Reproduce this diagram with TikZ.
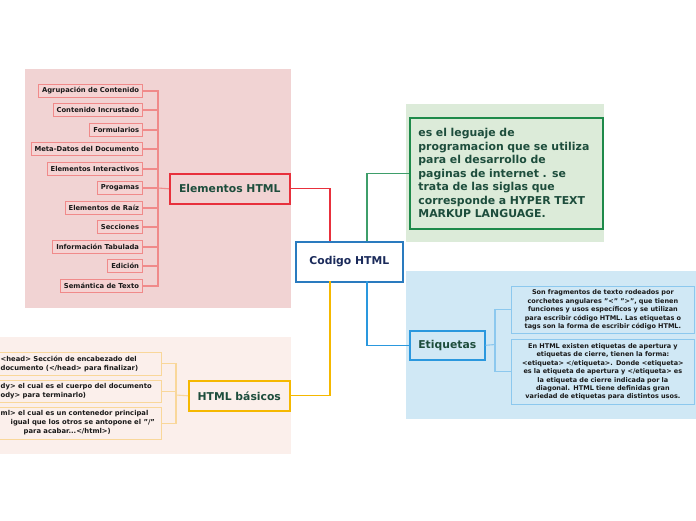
\documentclass[tikz,border=0pt]{standalone}
\usepackage{fontspec}
\setmainfont{DejaVu Sans}
\definecolor{bgP}{HTML}{F1D3D3}
\definecolor{bgG}{HTML}{DCEBD9}
\definecolor{bgB}{HTML}{D0E8F5}
\definecolor{bgO}{HTML}{FBEFEB}
\definecolor{lfB}{HTML}{F08A8A}
\definecolor{lfF}{HTML}{F5D3D3}
\definecolor{redB}{HTML}{E8303C}
\definecolor{grnB}{HTML}{1E8A4A}
\definecolor{grnL}{HTML}{3E9E6A}
\definecolor{bluB}{HTML}{2A98DE}
\definecolor{bluL}{HTML}{8CC8EE}
\definecolor{codB}{HTML}{2A7BBF}
\definecolor{orB}{HTML}{F5B800}
\definecolor{orL}{HTML}{F9D79A}
\definecolor{txG}{HTML}{1D4D3C}
\definecolor{txN}{HTML}{1A2A5A}
\begin{document}
\begin{tikzpicture}[x=1pt,y=-1pt,
  leaf/.style={draw=lfB,fill=lfF,line width=0.9pt,font=\fontsize{6.8}{7.5}\selectfont\bfseries,text=black!90,inner xsep=3.5pt,inner ysep=0pt,minimum height=13pt,anchor=east},
  mainbox/.style={line width=1.6pt,font=\fontsize{10.8}{12}\selectfont\bfseries,text=txG,inner sep=0pt,anchor=north west},
  smallbox/.style={line width=0.8pt,font=\fontsize{6.5}{8.4}\selectfont\bfseries,text=black!90,inner sep=0pt,anchor=north west},
  basictxt/.style={anchor=west,align=left,inner sep=0pt,font=\fontsize{6.8}{9}\selectfont\bfseries,text=black!90},
  conn/.style={line width=1.1pt}]
\useasboundingbox (0,0) rectangle (696,520);
\fill[white] (0,0) rectangle (696,520);
% background regions
\fill[bgP] (25,69) rectangle (291,308);
\fill[bgG] (406,104) rectangle (604,242);
\fill[bgB] (406,271) rectangle (696,419);
\fill[bgO] (0,337) rectangle (291,454);
\coordinate (cA) at (330,241);
\coordinate (cB) at (367,241);
\coordinate (cC) at (367,281);
\coordinate (cD) at (330,281);
% central
\node[mainbox,draw=codB,fill=white,text=txN,minimum width=107pt,minimum height=40pt] (code) at (295,241) {Codigo HTML};
% Elementos HTML
\node[mainbox,draw=redB,fill=bgP,minimum width=120pt,minimum height=30pt] (elem) at (169,173) {Elementos HTML};
\node[leaf] (l1) at (143,91) {Agrupación de Contenido};
\node[leaf] (l2) at (143,110) {Contenido Incrustado};
\node[leaf] (l3) at (143,130) {Formularios};
\node[leaf] (l4) at (143,149) {Meta-Datos del Documento};
\node[leaf] (l5) at (143,169) {Elementos Interactivos};
\node[leaf] (l6) at (143,188) {Progamas};
\node[leaf] (l7) at (143,208) {Elementos de Raíz};
\node[leaf] (l8) at (143,227) {Secciones};
\node[leaf] (l9) at (143,247) {Información Tabulada};
\node[leaf] (l10) at (143,266) {Edición};
\node[leaf] (l11) at (143,286) {Semántica de Texto};
\coordinate (jE) at (158,188);
\foreach \i in {1,...,11} {\draw[conn,draw=lfB] (l\i.east) -| (jE);}
\draw[conn,draw=lfB] (jE) -- (elem.west);
% description
\node[mainbox,draw=grnB,fill=bgG,line width=1.8pt,minimum width=192pt,minimum height=111pt,text width=176pt,align=left,inner xsep=8.5pt,font=\fontsize{10.9}{13.5}\selectfont\bfseries,text=txG] (desc) at (409,117) {es el leguaje de\\programacion que se utiliza\\para el desarrollo de\\paginas de internet . se\\trata de las siglas que\\corresponde a HYPER TEXT\\MARKUP LANGUAGE.};
% Etiquetas
\node[mainbox,draw=bluB,fill=bgB,minimum width=75pt,minimum height=29pt] (etq) at (409,330) {Etiquetas};
\node[smallbox,draw=bluL,fill=bgB,minimum width=183pt,minimum height=47pt,text width=180pt,align=center] (t1) at (511,286) {Son fragmentos de texto rodeados por\\corchetes angulares "<" ">", que tienen\\funciones y usos específicos y se utilizan\\para escribir código HTML. Las etiquetas o\\tags son la forma de escribir código HTML.};
\node[smallbox,draw=bluL,fill=bgB,minimum width=183pt,minimum height=65pt,text width=180pt,align=center] (t2) at (511,339) {En HTML existen etiquetas de apertura y\\etiquetas de cierre, tienen la forma:\\<etiqueta> </etiqueta>. Donde <etiqueta>\\es la etiqueta de apertura y </etiqueta> es\\la etiqueta de cierre indicada por la\\diagonal. HTML tiene definidas gran\\variedad de etiquetas para distintos usos.};
\coordinate (jT) at (495,344.5);
\draw[conn,draw=bluL] (etq.east) -- (jT);
\draw[conn,draw=bluL] (jT) |- (t1.west);
\draw[conn,draw=bluL] (jT) |- (t2.west);
% HTML basicos
\node[mainbox,draw=orB,fill=bgO,minimum width=101pt,minimum height=30pt] (basic) at (188,380) {HTML básicos};
\node[smallbox,draw=orL,fill=bgO,minimum width=182pt,minimum height=23pt] (b1) at (-21,352) {};
\node[smallbox,draw=orL,fill=bgO,minimum width=182pt,minimum height=22pt] (b2) at (-21,380) {};
\node[smallbox,draw=orL,fill=bgO,minimum width=182pt,minimum height=32pt] (b3) at (-21,407) {};
\node[basictxt] (b1t) at (0.5,363.5) {<head> Sección de encabezado del\\documento (</head> para finalizar)};
\node[basictxt] (b2t) at (0.5,391) {dy> el cual es el cuerpo del documento\\ody> para terminarlo)};
\node[basictxt] (b3t) at (0.5,423) {ml> el cual es un contenedor principal\\\hspace*{10pt}igual que los otros se antopone el "/"\\\hspace*{23pt}para acabar...</html>)};
\coordinate (jB) at (176,395);
\draw[conn,draw=orL] (basic.west) -- (jB);
\draw[conn,draw=orL] (jB) |- (b1.east);
\draw[conn,draw=orL] (jB) |- (b2.east);
\draw[conn,draw=orL] (jB) |- (b3.east);
% connectors from the central node
\draw[conn,color=grnL] (cB) |- (desc.west);
\draw[conn,color=bluB] (cC) |- (etq.west);
\draw[conn,color=redB] (elem.east) -| (cA);
\draw[conn,color=orB] (cD) |- (basic.east);
\end{tikzpicture}
\end{document}
